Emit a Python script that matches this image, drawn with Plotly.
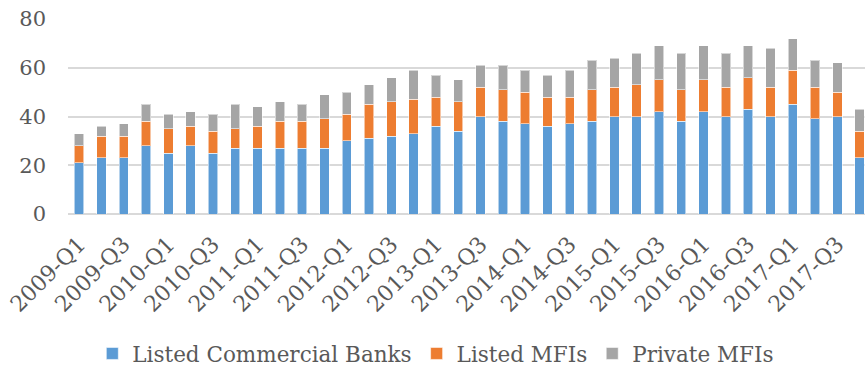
import plotly.graph_objects as go

quarters = [f"{y}-Q{q}" for y in range(2009, 2018) for q in range(1, 5)]

banks = [21, 23, 23, 28, 25, 28, 25, 27, 27, 27, 27, 27, 30, 31, 32, 33, 36, 34,
         40, 38, 37, 36, 37, 38, 40, 40, 42, 38, 42, 40, 43, 40, 45, 39, 40, 23]
listed_mfis = [7, 9, 9, 10, 10, 8, 9, 8, 9, 11, 11, 12, 11, 14, 14, 14, 12, 12,
               12, 13, 13, 12, 11, 13, 12, 13, 13, 13, 13, 12, 13, 12, 14, 13, 10, 11]
private_mfis = [5, 4, 5, 7, 6, 6, 7, 10, 8, 8, 7, 10, 9, 8, 10, 12, 9, 9,
                9, 10, 9, 9, 11, 12, 12, 13, 14, 15, 14, 14, 13, 16, 13, 11, 12, 9]

tick_labels = [q for i, q in enumerate(quarters) if i % 2 == 0]

FONT = "DejaVu Serif"
edge = dict(color="rgba(255,255,255,0.55)", width=1)

fig = go.Figure()
fig.add_trace(go.Bar(x=quarters, y=banks, name="Listed Commercial Banks",
                     marker=dict(color="#5B9BD5", line=edge)))
fig.add_trace(go.Bar(x=quarters, y=listed_mfis, name="Listed MFIs",
                     marker=dict(color="#ED7D31", line=edge)))
fig.add_trace(go.Bar(x=quarters, y=private_mfis, name="Private MFIs",
                     marker=dict(color="#A5A5A5", line=edge)))

fig.update_layout(
    barmode="stack",
    bargap=0.58,
    width=865, height=371,
    margin=dict(l=68, r=0, t=19, b=157, autoexpand=False),
    paper_bgcolor="white", plot_bgcolor="white",
    font=dict(family=FONT, size=21, color="#595959"),
    legend=dict(orientation="h", x=0.4615, xanchor="center", y=-0.61, yanchor="top",
                traceorder="normal",
                font=dict(family=FONT, size=21.5, color="#595959"), itemwidth=30,
                tracegroupgap=0),
    xaxis=dict(type="category", range=[-0.5, 35.24], tickangle=-45,
               tickmode="array", tickvals=tick_labels, ticktext=tick_labels,
               showgrid=False, showline=False, ticks="", ticklabelstandoff=12,
               tickfont=dict(family=FONT, size=22, color="#595959")),
    yaxis=dict(range=[0, 80], tickvals=[0, 20, 40, 60, 80], showgrid=True,
               gridcolor="#D9D9D9", gridwidth=1.5, zeroline=True,
               zerolinecolor="#D9D9D9", zerolinewidth=1.5, showline=False,
               ticks="", tickfont=dict(family=FONT, size=21, color="#595959"),
               ticklabelstandoff=21),
)

fig.write_html("out.html")
